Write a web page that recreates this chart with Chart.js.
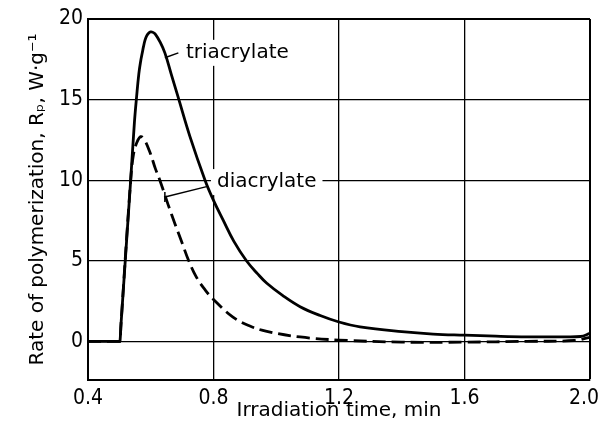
<!DOCTYPE html>
<html>
<head>
<meta charset="utf-8">
<script src="https://cdn.jsdelivr.net/npm/chart.js@4/dist/chart.umd.min.js"></script>
<style>
  html, body { margin: 0; padding: 0; background: #fff; }
  #wrap { width: 601px; height: 437px; }
</style>
</head>
<body>
<div id="wrap"><canvas id="c"></canvas></div>
<script>
// irradiation time (min) and rate of polymerization (W/g)
var triTime = [0.40, 0.50, 0.502, 0.505, 0.536, 0.548, 0.555, 0.562, 0.568, 0.573, 0.577, 0.582, 0.587, 0.593, 0.60, 0.607, 0.615, 0.629, 0.645, 0.665, 0.688, 0.725, 0.773, 0.80, 0.83, 0.865, 0.905, 0.94, 0.97, 1.02, 1.076, 1.14, 1.2, 1.267, 1.4, 1.5, 1.6, 1.7, 1.8, 1.9, 1.97, 2.0];
var triRate = [0, 0, 0, 1.0, 10, 13.6, 15.2, 16.6, 17.4, 17.9, 18.3, 18.7, 18.95, 19.12, 19.2, 19.17, 19.05, 18.6, 17.9, 16.6, 15.1, 12.7, 10, 8.75, 7.55, 6.2, 5, 4.2, 3.6, 2.85, 2.15, 1.6, 1.2, 0.9, 0.6, 0.45, 0.38, 0.32, 0.28, 0.28, 0.3, 0.5];

var diTime = [0.40, 0.50, 0.502, 0.505, 0.536, 0.545, 0.555, 0.568, 0.58, 0.598, 0.615, 0.629, 0.655, 0.677, 0.70, 0.72, 0.745, 0.775, 0.80, 0.862, 0.916, 0.97, 1.076, 1.2, 1.4, 1.6, 1.8, 1.95, 2.0];
var diRate = [0, 0, 0, 1.0, 10, 11.6, 12.3, 12.7, 12.5, 11.7, 10.7, 10, 8.5, 7.3, 6.1, 5.05, 4.0, 3.15, 2.6, 1.5, 0.95, 0.62, 0.27, 0.08, -0.05, -0.05, 0, 0.05, 0.25];

var xTicks = [0.4, 0.8, 1.2, 1.6, 2.0];
var yTicks = [0, 5, 10, 15, 20];

// curve labels: text position and leader line (data units)
var labels = [
  { text: 'triacrylate', x: 0.712, y: 17.9, from: [0.645, 17.6], to: [0.688, 17.9], tick: false },
  { text: 'diacrylate', x: 0.811, y: 9.88, from: [0.645, 8.96], to: [0.778, 9.6], tick: true }
];

var FONT = '"DejaVu Sans", sans-serif';
var NUMFONT = '"Liberation Sans Narrow", "DejaVu Sans Condensed", sans-serif';

var toXY = (xs, ys) => xs.map((x, i) => ({ x: x, y: ys[i] }));

var labelPlugin = {
  id: 'curveLabels',
  beforeDatasetsDraw: (chart) => {
    var ctx = chart.ctx, sx = chart.scales.x, sy = chart.scales.y;
    ctx.save();
    ctx.font = '20px ' + FONT;
    ctx.fillStyle = '#fff';
    labels.forEach((l) => {
      var w = ctx.measureText(l.text).width;
      var px = sx.getPixelForValue(l.x), py = sy.getPixelForValue(l.y);
      ctx.fillRect(px - 6, py - 13, w + 12, 26);
    });
    ctx.restore();
  },
  afterDatasetsDraw: (chart) => {
    var ctx = chart.ctx, sx = chart.scales.x, sy = chart.scales.y;
    ctx.save();
    ctx.font = '20px ' + FONT;
    ctx.fillStyle = '#000';
    ctx.strokeStyle = '#000';
    ctx.lineWidth = 1.5;
    ctx.textBaseline = 'middle';
    labels.forEach((l) => {
      var x1 = sx.getPixelForValue(l.from[0]), y1 = sy.getPixelForValue(l.from[1]);
      var x2 = sx.getPixelForValue(l.to[0]), y2 = sy.getPixelForValue(l.to[1]);
      ctx.beginPath();
      ctx.moveTo(x1, y1);
      ctx.lineTo(x2, y2);
      if (l.tick) {
        ctx.moveTo(x1, y1 - 5);
        ctx.lineTo(x1, y1 + 5);
      }
      ctx.stroke();
      ctx.fillText(l.text, sx.getPixelForValue(l.x), sy.getPixelForValue(l.y));
    });
    ctx.restore();
  }
};

var edgeWidth = (c, edge) => (c.tick && Math.abs(c.tick.value - edge) < 1e-6) ? 2 : 1.3;

new Chart(document.getElementById('c'), {
  type: 'line',
  data: {
    datasets: [
      {
        label: 'triacrylate',
        data: toXY(triTime, triRate),
        borderColor: '#000',
        borderWidth: 2.8,
        tension: 0.4
      },
      {
        label: 'diacrylate',
        data: toXY(diTime, diRate),
        borderColor: '#000',
        borderWidth: 2.8,
        borderDash: [13, 6],
        tension: 0.4
      }
    ]
  },
  options: {
    responsive: true,
    maintainAspectRatio: false,
    animation: false,
    layout: { padding: { left: 0, top: 19, right: 11, bottom: 0 } },
    elements: { point: { radius: 0 } },
    plugins: {
      legend: { display: false },
      tooltip: { enabled: false }
    },
    scales: {
      x: {
        type: 'linear',
        min: 0.4,
        max: 2.0,
        afterBuildTicks: (s) => { s.ticks = xTicks.map((v) => ({ value: v })); },
        afterFit: (s) => { s.height = 57; s.paddingLeft = 0; s.paddingRight = 0; },
        grid: { color: '#000', lineWidth: (c) => edgeWidth(c, 2.0), drawTicks: false },
        border: { color: '#000', width: 2 },
        ticks: {
          color: '#000',
          padding: 6,
          maxRotation: 0,
          font: { family: NUMFONT, size: 21 },
          // last label sits a little left of its grid line, as in the figure
          callback: (v) => v === 2 ? '2.0  ' : v.toFixed(1)
        },
        title: {
          display: true,
          text: 'Irradiation time, min',
          color: '#000',
          font: { family: FONT, size: 20 },
          padding: { top: 0, bottom: 14 }
        }
      },
      y: {
        type: 'linear',
        min: -2.4,
        max: 20,
        afterBuildTicks: (s) => { s.ticks = yTicks.map((v) => ({ value: v })); },
        afterFit: (s) => { s.width = 88; s.paddingTop = 0; s.paddingBottom = 0; },
        grid: { color: '#000', lineWidth: (c) => edgeWidth(c, 20), drawTicks: false },
        border: { color: '#000', width: 2 },
        ticks: {
          color: '#000',
          padding: 5,
          font: { family: NUMFONT, size: 21 }
        },
        title: {
          display: true,
          text: 'Rate of polymerization, Rₚ, W·g⁻¹',
          color: '#000',
          font: { family: FONT, size: 20 },
          padding: { top: 26, bottom: 0 }
        }
      }
    }
  },
  plugins: [labelPlugin]
});
</script>
</body>
</html>
